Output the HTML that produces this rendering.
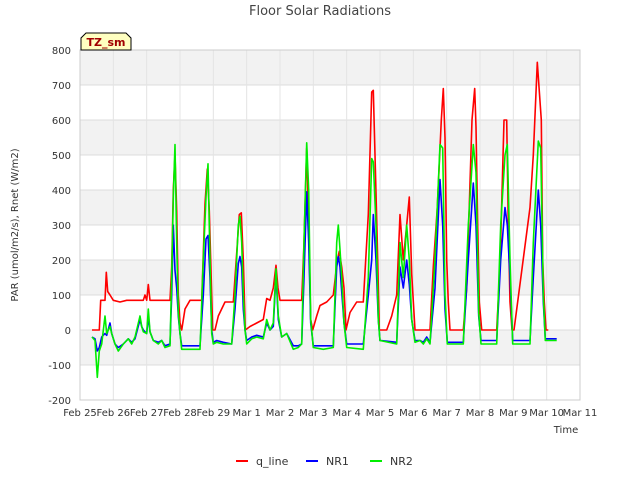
<!DOCTYPE html>
<html><head><meta charset="utf-8"><style>
body{margin:0;background:#fff;font-family:"Liberation Sans","DejaVu Sans",sans-serif;}
svg text{font-family:"DejaVu Sans","Liberation Sans",sans-serif;}
</style></head><body>
<svg id="c" width="640" height="480" xmlns="http://www.w3.org/2000/svg">
<rect width="640" height="480" fill="#fff"/>
<g id="grid"></g>
<g id="axes"></g>
<g id="series"></g>
<text x="320" y="15" text-anchor="middle" font-size="13" fill="#444">Floor Solar Radiations</text>
<text x="18" y="225" text-anchor="middle" font-size="10" fill="#333" transform="rotate(-90 18 225)">PAR (umol/m2/s), Rnet (W/m2)</text>
<text x="566" y="433" text-anchor="middle" font-size="10" fill="#333">Time</text>
<g>
<path d="M81,50 L81,38 L86,33 L126,33 L131,38 L131,50 Z" fill="#ffffc0" stroke="#000" stroke-width="1"/>
<text x="106" y="46" text-anchor="middle" font-size="11" font-weight="bold" fill="#a00000">TZ_sm</text>
</g>
<g id="legend"></g>
</svg>
<script>
const yTicks=[-200,-100,0,100,200,300,400,500,600,700,800];
const xTickLabels=["Feb 25","Feb 26","Feb 27","Feb 28","Feb 29","Mar 1","Mar 2","Mar 3","Mar 4","Mar 5","Mar 6","Mar 7","Mar 8","Mar 9","Mar 10","Mar 11"];
const seriesNames=["q_line","NR1","NR2"];
const qT=[0.36,0.58,0.62,0.75,0.79,0.83,0.9,1.0,1.2,1.4,1.9,1.95,2.0,2.05,2.1,2.7,2.75,2.8,2.85,2.9,2.95,3.0,3.05,3.15,3.3,3.65,3.75,3.82,3.88,3.93,3.98,4.05,4.15,4.35,4.6,4.7,4.78,4.84,4.9,4.96,5.1,5.3,5.5,5.6,5.7,5.8,5.88,5.94,6.0,6.65,6.72,6.8,6.86,6.92,6.98,7.1,7.2,7.4,7.6,7.72,7.78,7.85,7.92,7.98,8.1,8.3,8.5,8.65,8.75,8.8,8.85,8.92,8.98,9.2,9.35,9.5,9.6,9.7,9.8,9.88,9.95,10.05,10.5,10.6,10.72,10.84,10.9,10.95,11.0,11.05,11.1,11.5,11.6,11.76,11.84,11.88,11.93,11.98,12.05,12.5,12.6,12.72,12.8,12.85,12.9,12.96,13.02,13.5,13.6,13.72,13.84,13.88,13.93,13.98,14.05,14.3];
const qV=[0,0,85,85,165,110,100,85,80,85,85,100,85,130,85,85,180,400,500,340,100,20,0,60,85,85,360,460,340,170,0,0,40,80,80,220,330,335,200,0,10,20,30,90,85,120,185,120,85,85,250,520,300,30,0,40,70,80,100,200,225,180,120,0,50,80,80,330,680,685,500,250,0,0,40,100,330,200,300,380,160,0,0,180,350,600,690,550,200,80,0,0,120,600,690,580,300,80,0,0,180,600,600,300,80,0,0,350,500,765,600,200,80,0,0];
const n1T=[0.36,0.45,0.52,0.58,0.65,0.75,0.8,0.9,0.95,1.05,1.15,1.3,1.45,1.55,1.65,1.8,1.85,1.9,2.0,2.05,2.1,2.2,2.35,2.45,2.55,2.7,2.75,2.8,2.85,2.9,2.95,3.0,3.05,3.6,3.7,3.78,3.84,3.9,3.95,4.0,4.1,4.3,4.55,4.65,4.75,4.8,4.85,4.9,4.95,5.0,5.15,5.3,5.5,5.6,5.7,5.8,5.88,5.95,6.05,6.2,6.4,6.55,6.65,6.72,6.8,6.86,6.92,7.0,7.3,7.6,7.7,7.75,7.8,7.85,7.92,8.0,8.5,8.65,8.75,8.8,8.88,8.95,9.0,9.5,9.6,9.7,9.8,9.88,9.95,10.05,10.2,10.3,10.4,10.5,10.65,10.8,10.88,10.95,11.02,11.5,11.65,11.8,11.88,11.96,12.03,12.5,12.62,12.75,12.82,12.9,12.98,13.5,13.6,13.75,13.82,13.9,13.96,14.3];
const n1V=[-20,-25,-60,-50,-20,-10,-15,20,-10,-40,-50,-40,-25,-35,-25,30,10,0,-10,40,-5,-30,-35,-30,-45,-40,100,300,170,120,40,-10,-45,-45,100,260,270,150,0,-35,-30,-35,-40,60,190,210,180,60,0,-30,-20,-15,-20,20,0,10,160,30,-20,-10,-45,-45,-40,150,395,250,20,-45,-45,-45,180,210,180,110,20,-40,-40,100,200,330,200,30,-30,-35,180,120,200,130,30,-30,-30,-35,-20,-35,120,430,300,60,-35,-35,200,420,300,40,-30,-30,200,350,300,150,-30,-30,150,400,300,80,-25,-25];
const n2T=[0.36,0.45,0.52,0.58,0.65,0.75,0.8,0.9,0.95,1.05,1.15,1.3,1.45,1.55,1.65,1.8,1.85,1.9,2.0,2.05,2.1,2.2,2.35,2.45,2.55,2.7,2.75,2.8,2.85,2.9,2.95,3.0,3.05,3.6,3.7,3.78,3.84,3.9,3.95,4.0,4.1,4.3,4.55,4.65,4.75,4.8,4.85,4.9,4.95,5.0,5.15,5.3,5.5,5.6,5.7,5.8,5.88,5.95,6.05,6.2,6.4,6.55,6.65,6.72,6.8,6.86,6.92,7.0,7.3,7.6,7.7,7.75,7.8,7.85,7.92,8.0,8.5,8.65,8.75,8.8,8.88,8.95,9.0,9.5,9.6,9.7,9.8,9.88,9.95,10.05,10.2,10.3,10.4,10.5,10.65,10.8,10.88,10.95,11.02,11.5,11.65,11.8,11.88,11.96,12.03,12.5,12.62,12.75,12.82,12.9,12.98,13.5,13.6,13.75,13.82,13.9,13.96,14.3];
const n2V=[-20,-30,-135,-60,-40,40,-10,10,-10,-40,-60,-40,-25,-40,-20,40,10,-5,-10,60,-5,-30,-40,-30,-50,-45,150,380,530,250,50,-10,-55,-55,200,380,475,200,-10,-40,-35,-40,-40,100,300,325,250,100,0,-40,-25,-20,-25,30,0,20,175,40,-20,-10,-55,-50,-40,250,535,400,30,-50,-55,-50,250,300,230,150,20,-50,-55,150,490,480,300,30,-30,-40,250,150,300,200,30,-35,-30,-40,-25,-40,200,530,520,100,-40,-40,300,530,450,50,-40,-40,300,500,530,200,-40,-40,250,540,520,100,-30,-30];
const X=t=>80+t*(500/15);
const Y=v=>330-v*0.35;
const ns="http://www.w3.org/2000/svg";
const grid=document.getElementById('grid'),axes=document.getElementById('axes'),ser=document.getElementById('series'),leg=document.getElementById('legend');
for(let i=0;i<yTicks.length-1;i++){
  const r=document.createElementNS(ns,'rect');
  
  
  const y1=Y(yTicks[i+1]),y0=Y(yTicks[i]);
  r.setAttribute('x',80);r.setAttribute('y',y1);r.setAttribute('width',500);r.setAttribute('height',y0-y1);
  r.setAttribute('fill',i%2===1?'#f2f2f2':'#ffffff');
  grid.appendChild(r);
}
yTicks.forEach(v=>{
  const l=document.createElementNS(ns,'line');
  
  
  l.setAttribute('x1',80);l.setAttribute('x2',580);l.setAttribute('y1',Y(v));l.setAttribute('y2',Y(v));
  l.setAttribute('stroke','#dcdcdc');grid.appendChild(l);
  const t=document.createElementNS(ns,'text');
  
  
  t.setAttribute('x',71);t.setAttribute('y',Y(v)+4);t.setAttribute('text-anchor','end');t.setAttribute('font-size','10');t.setAttribute('fill','#333');
  t.textContent=v;axes.appendChild(t);
});
xTickLabels.forEach((s,i)=>{
  const l=document.createElementNS(ns,'line');
  
  
  l.setAttribute('x1',X(i));l.setAttribute('x2',X(i));l.setAttribute('y1',50);l.setAttribute('y2',400);
  l.setAttribute('stroke','#e4e4e4');grid.appendChild(l);
  const t=document.createElementNS(ns,'text');
  
  
  t.setAttribute('x',X(i));t.setAttribute('y',416);t.setAttribute('text-anchor','middle');t.setAttribute('font-size','10');t.setAttribute('fill','#333');
  t.textContent=s;axes.appendChild(t);
});
const frame=document.createElementNS(ns,'rect');


frame.setAttribute('x',80);frame.setAttribute('y',50);frame.setAttribute('width',500);frame.setAttribute('height',350);
frame.setAttribute('fill','none');frame.setAttribute('stroke','#ccc');axes.appendChild(frame);
const defs=[[qT,qV,'#ff0000','q-line-series'],[n1T,n1V,'#0000ff','nr1-series'],[n2T,n2V,'#00ee00','nr2-series']];
defs.forEach(([T,V,c,name])=>{
  const p=document.createElementNS(ns,'polyline');
  
  
  p.setAttribute('points',T.map((t,i)=>X(t).toFixed(1)+','+Y(V[i]).toFixed(1)).join(' '));
  p.setAttribute('fill','none');p.setAttribute('stroke',c);p.setAttribute('stroke-width','1.6');p.setAttribute('stroke-linejoin','round');
  ser.appendChild(p);
});
const lx=[236,306,370],cols=['#ff0000','#0000ff','#00ee00'];
seriesNames.forEach((s,i)=>{
  const l=document.createElementNS(ns,'line');
  
  
  l.setAttribute('x1',lx[i]);l.setAttribute('x2',lx[i]+12);l.setAttribute('y1',461);l.setAttribute('y2',461);
  l.setAttribute('stroke',cols[i]);l.setAttribute('stroke-width','2');leg.appendChild(l);
  const t=document.createElementNS(ns,'text');
  
  
  t.setAttribute('x',lx[i]+20);t.setAttribute('y',465);t.setAttribute('font-size','11');t.setAttribute('fill','#333');
  t.textContent=s;leg.appendChild(t);
});
</script>
</body></html>
